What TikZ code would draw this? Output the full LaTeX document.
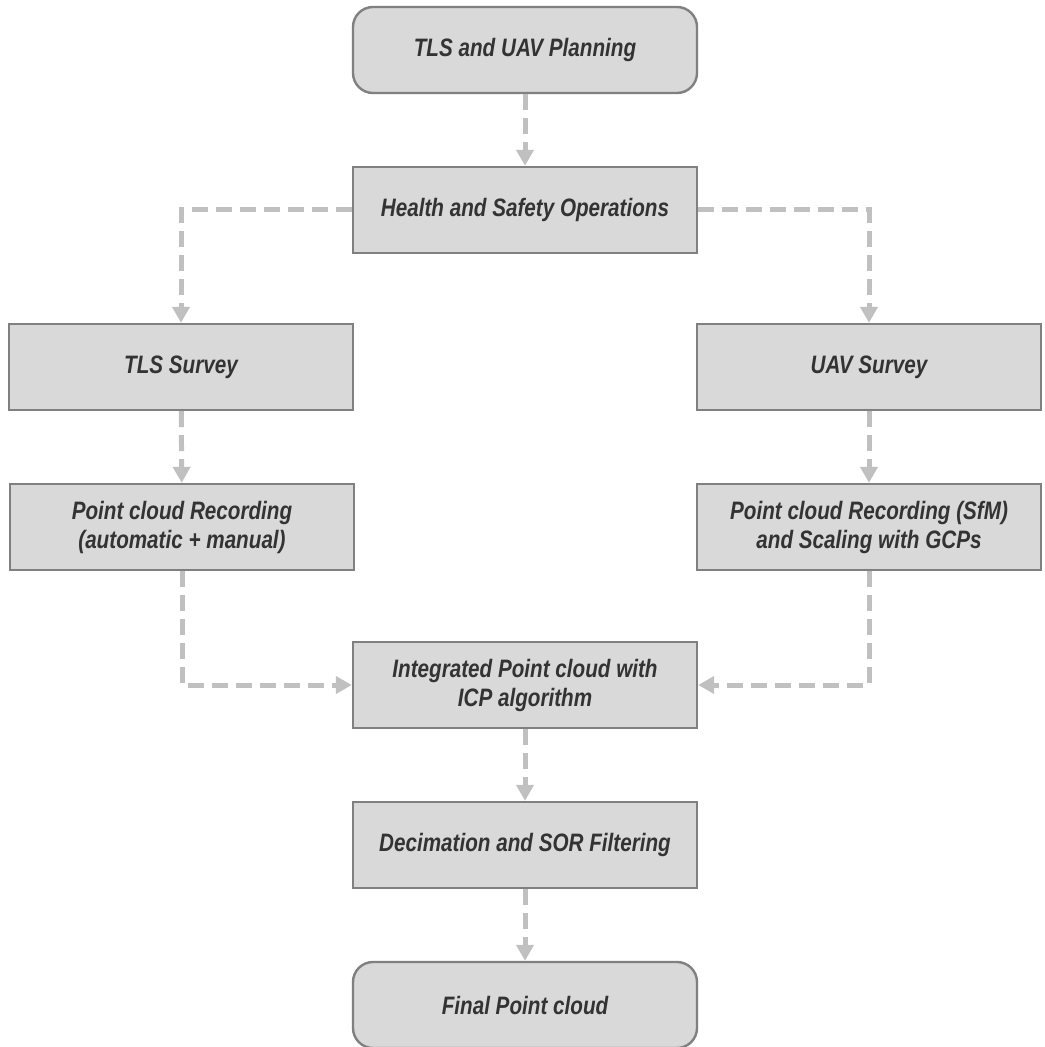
\documentclass[tikz,border=0pt]{standalone}
\usepackage{fontspec}
\usepackage{xcolor}
\usetikzlibrary{arrows.meta,positioning}
\newfontfamily\boxfont[FakeStretch=0.82]{Liberation Sans}
\definecolor{boxfill}{HTML}{D9D9D9}
\definecolor{boxline}{HTML}{808080}
\definecolor{flowgray}{HTML}{C0C0C0}
\definecolor{textgray}{HTML}{333333}

\begin{document}
\begin{tikzpicture}[x=0.5pt, y=-0.5pt,
  box/.style={draw=boxline, fill=boxfill, line width=1.2pt,
    minimum width=172pt, minimum height=43pt, inner sep=0pt,
    align=center, text=textgray,
    font=\boxfont\bfseries\itshape\fontsize{12.6pt}{14.5pt}\selectfont},
  rbox/.style={box, rounded corners=10pt},
  flow/.style={draw=flowgray, line width=2.5pt, dash pattern=on 8pt off 4pt,
    -{Triangle[length=8pt,width=8.5pt]}, flowgray}]

  \useasboundingbox (0,0) rectangle (1044,1047);

  \node[rbox] (plan)   at (525,50)   {TLS and UAV Planning};
  \node[box]  (health) at (525,210)  {Health and Safety Operations};
  \node[box]  (tls)    at (181,367)  {TLS Survey};
  \node[box]  (uav)    at (869,367)  {UAV Survey};
  \node[box]  (pcl)    at (182,527)  {Point cloud Recording\\(automatic + manual)};
  \node[box]  (pcr)    at (869,527)  {Point cloud Recording (SfM)\\and Scaling with GCPs};
  \node[box]  (icp)    at (525,685)  {Integrated Point cloud with\\ICP algorithm};
  \node[box]  (sor)    at (525,845)  {Decimation and SOR Filtering};
  \node[rbox] (final)  at (525,1005) {Final Point cloud};

  \draw[flow] (plan) -- (health);
  \draw[flow] (health.west) -| (tls.north);
  \draw[flow] (health.east) -| (uav.north);
  \draw[flow] (tls) -- (pcl);
  \draw[flow] (uav) -- (pcr);
  \draw[flow] (pcl.south) |- (icp.west);
  \draw[flow] (pcr.south) |- (icp.east);
  \draw[flow] (icp) -- (sor);
  \draw[flow] (sor) -- (final);
\end{tikzpicture}
\end{document}
